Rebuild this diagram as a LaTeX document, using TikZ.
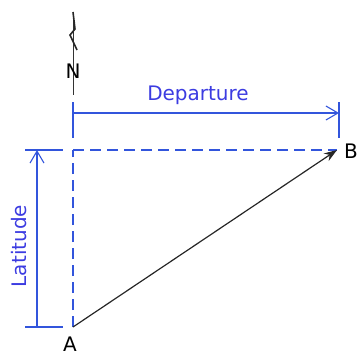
\documentclass[tikz,border=0pt]{standalone}
\usepackage{fontspec}
\setmainfont{DejaVu Sans}
\usetikzlibrary{arrows.meta}
\definecolor{dimblue}{RGB}{50,85,220}
\definecolor{txtblue}{RGB}{60,60,225}
\tikzset{
  dimline/.style={draw=dimblue, line width=1.1pt},
  dimtick/.style={draw=dimblue, line width=1.1pt},
  guide/.style={draw=dimblue, line width=1.1pt, dash pattern=on 11pt off 6pt},
  dimarrow/.style={-{Straight Barb[length=12pt,width=14pt,line width=1.1pt]}},
  lbl/.style={font=\fontsize{20}{22}\selectfont, inner sep=0pt},
  dimlbl/.style={lbl, text=txtblue},
  vec/.style={draw=black!85, line width=1.2pt, -{Stealth[length=13pt,width=9pt]}}
}
\begin{document}
\begin{tikzpicture}[x=1pt,y=-1pt]
\useasboundingbox (0,0) rectangle (358,356);
% points
\coordinate (A) at (73,327);
\coordinate (B) at (337,150);
\coordinate (C) at (73,150);
\coordinate (Ntop) at (73,12);
\coordinate (Nbot) at (73,95);
% north arrow
\draw[black!80, line width=1pt] (Ntop) -- (Nbot);
\draw[black!85, line width=1.6pt, line join=miter] (Ntop) -- (75,29) -- (70,35) -- (77,50);
\node[lbl] (N) at (73,71) {N};
% departure dimension
\coordinate (D1t) at (73,102);
\coordinate (D1b) at (73,138);
\coordinate (D2t) at (339,102);
\coordinate (D2b) at (339,138);
\coordinate (D1) at (73,113);
\coordinate (D2) at (339,113);
\draw[dimtick] (D1t) -- (D1b);
\draw[dimtick] (D2t) -- (D2b);
\draw[dimline, dimarrow] (D1) -- (D2);
\node[dimlbl] (dep) at (198,95) {Departure};
% latitude dimension
\coordinate (L1l) at (25,150);
\coordinate (L1r) at (63,150);
\coordinate (L2l) at (25,327);
\coordinate (L2r) at (63,327);
\coordinate (L1) at (37,150);
\coordinate (L2) at (37,327);
\draw[dimtick] (L1l) -- (L1r);
\draw[dimtick] (L2l) -- (L2r);
\draw[dimline, dimarrow] (L2) -- (L1);
\node[dimlbl, rotate=90] (lat) at (19,246) {Latitude};
% guides
\draw[guide] (C) -- (B);
\draw[guide] (A) -- (C);
% vector
\draw[vec] (A) -- (B);
\node[lbl] (Alab) at (70,344.5) {A};
\node[lbl] (Blab) at (351,151) {B};
\end{tikzpicture}
\end{document}
